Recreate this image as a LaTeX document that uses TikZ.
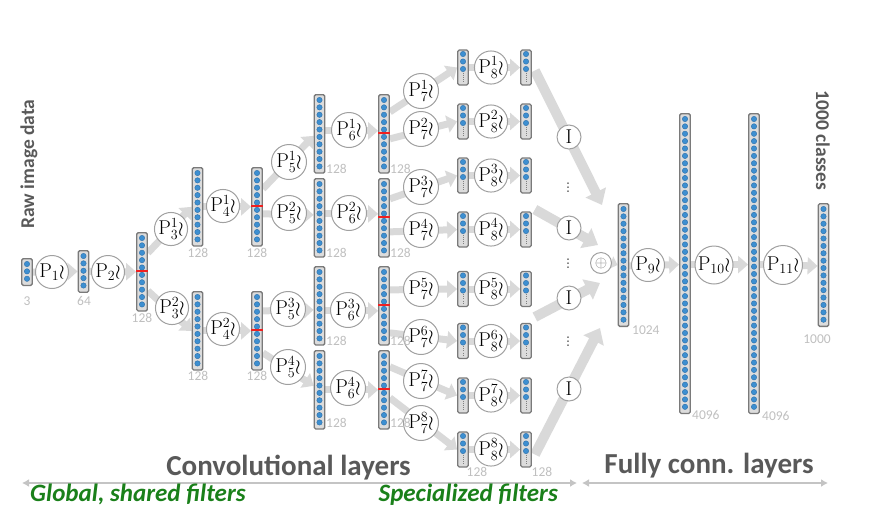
\RequirePackage{fix-cm}
\documentclass[tikz,border=0pt]{standalone}
\usepackage{fontspec}
\newfontfamily\cali{Carlito}
\usetikzlibrary{arrows.meta,calc}
\definecolor{arrg}{HTML}{D9D9D9}
\definecolor{boxfill}{HTML}{DCDCDC}
\definecolor{boxline}{HTML}{7A7A7A}
\definecolor{dotfill}{HTML}{3D8FD1}
\definecolor{dotline}{HTML}{2B6EA8}
\definecolor{circline}{HTML}{A0A0A0}
\definecolor{lblc}{HTML}{BFBFBF}
\definecolor{headc}{HTML}{595959}
\definecolor{greenc}{HTML}{1A801A}
\definecolor{redl}{HTML}{F02020}
\definecolor{dblc}{HTML}{C4C4C4}
\pgfdeclarelayer{bg}
\pgfsetlayers{bg,main}
\newcommand{\fullvec}[4]{%
  \pgfmathsetmacro{\vh}{(#4-1)*7.38+12}%
  \node[vecbox, minimum height=\vh pt, anchor=north] (#1) at (#2,#3) {};%
  \foreach \i in {1,...,#4}{\path[vdot] (#2,{#3+6+(\i-1)*7.38}) circle (2.7pt);}%
}
\newcommand{\redsplit}[1]{\draw[redline] ($(#1.north west)+(0,39.2)$) -- ($(#1.north east)+(0,39.2)$);}
\newcommand{\smallvec}[3]{%
  \node[vecbox, minimum height=35pt] (#1) at (#2,#3) {};%
  \foreach \k in {0,1,2}{\path[vdot] (#2,{#3-13.5+\k*7.5}) circle (2.7pt);}%
  \draw[vdash] (#2,{#3+5}) -- (#2,{#3+14});%
}
\begin{document}
\begin{tikzpicture}[x=1pt,y=-1pt,
  vecbox/.style={draw=boxline, fill=boxfill, line width=1.3pt, rounded corners=1.5pt, minimum width=10.5pt, inner sep=0pt},
  vdot/.style={fill=dotfill, draw=dotline, line width=0.4pt},
  vdash/.style={draw=gray, line width=0.9pt, dash pattern=on 0.9pt off 1.3pt},
  redline/.style={draw=redl, line width=1.5pt},
  op/.style={circle, draw=circline, fill=white, line width=1pt, inner sep=0pt, minimum size=#1, font=\fontsize{20}{20}\selectfont},
  arr/.style={draw=arrg, line width=7pt, -{Triangle[length=10pt,width=17pt]}},
  bigarr/.style={draw=arrg, line width=10pt, -{Triangle[length=14pt,width=22pt]}},
  lbl/.style={text=lblc, inner sep=0pt, font=\cali\fontsize{13.5}{14}\selectfont},
  head/.style={text=headc, inner sep=0pt, font=\cali\bfseries\fontsize{29}{30}\selectfont},
  side/.style={text=headc, inner sep=0pt, font=\cali\bfseries\fontsize{19.5}{20}\selectfont},
  grn/.style={text=greenc, inner sep=0pt, font=\cali\bfseries\itshape\fontsize{25}{26}\selectfont},
  dbl/.style={draw=dblc, line width=2.2pt, {Latex[length=7pt,width=8pt]}-{Latex[length=7pt,width=8pt]}},
  vd/.style={inner sep=0pt, text=black!75, font=\fontsize{20}{20}\selectfont}
]
\useasboundingbox (0,0) rectangle (874,520);

% ---------- vectors ----------
\fullvec{L0}{27}{258}{3}
\fullvec{L1}{83.5}{250}{5}
\fullvec{L2}{142}{232}{10}\redsplit{L2}
\fullvec{L3a}{197.5}{167}{10}
\fullvec{L3b}{197.5}{291}{10}
\fullvec{L4a}{257}{167}{10}\redsplit{L4a}
\fullvec{L4b}{257}{291}{10}\redsplit{L4b}
\fullvec{L5a}{319.5}{94}{10}
\fullvec{L5b}{319.5}{178}{10}
\fullvec{L5c}{319.5}{266}{10}
\fullvec{L5d}{319.5}{350}{10}
\fullvec{L6a}{384}{94}{10}\redsplit{L6a}
\fullvec{L6b}{384}{178}{10}\redsplit{L6b}
\fullvec{L6c}{384}{266}{10}\redsplit{L6c}
\fullvec{L6d}{384}{350}{10}\redsplit{L6d}
\smallvec{L71}{463}{67.5}
\smallvec{L72}{463}{121.5}
\smallvec{L73}{463}{175.5}
\smallvec{L74}{463}{229.5}
\smallvec{L75}{463}{289}
\smallvec{L76}{463}{341}
\smallvec{L77}{463}{395.5}
\smallvec{L78}{463}{449.5}
\smallvec{L81}{526}{67.5}
\smallvec{L82}{526}{121.5}
\smallvec{L83}{526}{175.5}
\smallvec{L84}{526}{229.5}
\smallvec{L85}{526}{289}
\smallvec{L86}{526}{341}
\smallvec{L87}{526}{395.5}
\smallvec{L88}{526}{449.5}
\fullvec{L9}{623.5}{203}{16}
\fullvec{L10}{685}{113}{40}
\fullvec{L11}{754}{113}{40}
\fullvec{L12}{823.5}{203}{16}

% ---------- operators ----------
\node[op=33pt] (P1) at (52,272) {$\mathrm{P}_1\wr$};
\node[op=33pt] (P2) at (108,272) {$\mathrm{P}_2\wr$};
\node[op=33pt] (P31) at (171,229) {$\mathrm{P}^1_3\wr$};
\node[op=33pt] (P32) at (172,308) {$\mathrm{P}^2_3\wr$};
\node[op=33pt] (P41) at (223,206) {$\mathrm{P}^1_4\wr$};
\node[op=33pt] (P42) at (223,329) {$\mathrm{P}^2_4\wr$};
\node[op=35pt] (P51) at (289,162) {$\mathrm{P}^1_5\wr$};
\node[op=35pt] (P52) at (289,213) {$\mathrm{P}^2_5\wr$};
\node[op=35pt] (P53) at (288,309) {$\mathrm{P}^3_5\wr$};
\node[op=35pt] (P54) at (288,367) {$\mathrm{P}^4_5\wr$};
\node[op=35pt] (P61) at (349,130) {$\mathrm{P}^1_6\wr$};
\node[op=35pt] (P62) at (349,213) {$\mathrm{P}^2_6\wr$};
\node[op=35pt] (P63) at (348,310) {$\mathrm{P}^3_6\wr$};
\node[op=35pt] (P64) at (348,388) {$\mathrm{P}^4_6\wr$};
\node[op=35pt] (P71) at (421,91) {$\mathrm{P}^1_7\wr$};
\node[op=35pt] (P72) at (421,129) {$\mathrm{P}^2_7\wr$};
\node[op=35pt] (P73) at (421,187) {$\mathrm{P}^3_7\wr$};
\node[op=35pt] (P74) at (421,230) {$\mathrm{P}^4_7\wr$};
\node[op=35pt] (P75) at (421,289) {$\mathrm{P}^5_7\wr$};
\node[op=35pt] (P76) at (421,337) {$\mathrm{P}^6_7\wr$};
\node[op=35pt] (P77) at (421,381) {$\mathrm{P}^7_7\wr$};
\node[op=35pt] (P78) at (421,423) {$\mathrm{P}^8_7\wr$};
\node[op=32pt] (P81) at (491,67.5) {$\mathrm{P}^1_8\wr$};
\node[op=32pt] (P82) at (491,121.5) {$\mathrm{P}^2_8\wr$};
\node[op=32pt] (P83) at (491,175.5) {$\mathrm{P}^3_8\wr$};
\node[op=32pt] (P84) at (491,229.5) {$\mathrm{P}^4_8\wr$};
\node[op=32pt] (P85) at (491,289) {$\mathrm{P}^5_8\wr$};
\node[op=32pt] (P86) at (491,341) {$\mathrm{P}^6_8\wr$};
\node[op=32pt] (P87) at (491,395.5) {$\mathrm{P}^7_8\wr$};
\node[op=32pt] (P88) at (491,449.5) {$\mathrm{P}^8_8\wr$};
\node[op=24pt] (I1) at (569,137) {$\mathrm{I}$};
\node[op=24pt] (I2) at (569,228) {$\mathrm{I}$};
\node[op=24pt] (I3) at (569,298) {$\mathrm{I}$};
\node[op=24pt] (I4) at (569,389) {$\mathrm{I}$};
\node[vd] (d1) at (568,185) {$\vdots$};
\node[vd] (d2) at (568,261) {$\vdots$};
\node[vd] (d3) at (568,339) {$\vdots$};
\node[op=21pt, text=gray, font=\fontsize{16}{16}\selectfont] (plus) at (601,263) {$\oplus$};
\node[op=33pt] (P9) at (648,265) {$\mathrm{P}_9\wr$};
\node[op=38pt] (P10) at (714,265) {$\mathrm{P}_{10}\wr$};
\node[op=39pt] (P11) at (783,265) {$\mathrm{P}_{11}\wr$};

% ---------- connectors (behind) ----------
\coordinate (t1) at ($(plus)+(1,-58)$);
\coordinate (t2) at ($(plus)+(-3,-18)$);
\coordinate (t3) at ($(plus)+(-1,20)$);
\coordinate (t4) at ($(plus)+(-1,65)$);
\begin{pgfonlayer}{bg}
\draw[arr] (L0.east) -- (L1.west);
\draw[arr] (L1.east) -- (L2.west);
\draw[arr] ($(L2.east)+(0,-19)$) -- (L3a.west);
\draw[arr] ($(L2.east)+(0,19)$) -- (L3b.west);
\draw[arr] (L3a.east) -- (L4a.west);
\draw[arr] (L3b.east) -- (L4b.west);
\draw[arr] ($(L4a.east)+(0,-18)$) -- ($(L5a.west)+(0,2)$);
\draw[arr] ($(L4a.east)+(0,7)$) -- ($(L5b.west)+(0,-3)$);
\draw[arr] ($(L4b.east)+(0,-20)$) -- ($(L5c.west)+(0,4)$);
\draw[arr] ($(L4b.east)+(0,22)$) -- ($(L5d.west)+(0,-4)$);
\draw[arr] ($(L5a.east)+(0,-3)$) -- ($(L6a.west)+(0,-3)$);
\draw[arr] ($(L5b.east)+(0,-4)$) -- ($(L6b.west)+(0,-4)$);
\draw[arr] ($(L5c.east)+(0,5)$) -- ($(L6c.west)+(0,5)$);
\draw[arr] (L5d.east) -- (L6d.west);
\draw[arr] ($(L6a.east)+(0,-22)$) -- (L71.west);
\draw[arr] ($(L6a.east)+(0,5)$) -- (L72.west);
\draw[arr] ($(L6b.east)+(0,-19)$) -- (L73.west);
\draw[arr] ($(L6b.east)+(0,14)$) -- (L74.west);
\draw[arr] ($(L6c.east)+(0,-16)$) -- (L75.west);
\draw[arr] ($(L6c.east)+(0,27)$) -- (L76.west);
\draw[arr] ($(L6d.east)+(0,-23)$) -- (L77.west);
\draw[arr] ($(L6d.east)+(0,8)$) -- (L78.west);
\foreach \k in {1,...,8}{\draw[arr] (L7\k.east) -- (L8\k.west);}
\draw[bigarr] ($(L81.east)+(3,3)$) -- (t1);
\draw[bigarr] ($(L84.east)+(3,-20)$) -- (t2);
\draw[bigarr] ($(L85.east)+(3,28)$) -- (t3);
\draw[bigarr] ($(L88.east)+(3,5)$) -- (t4);
\draw[draw=arrg, line width=6pt, -{Triangle[length=7pt,width=13pt]}] (plus.east) -- (L9.west);
\draw[arr] ($(L9.east)+(0,1)$) -- ($(L10.west)+(0,1)$);
\draw[arr] ($(L10.east)+(0,1)$) -- ($(L11.west)+(0,1)$);
\draw[arr] ($(L11.east)+(0,1)$) -- ($(L12.west)+(0,1)$);
\end{pgfonlayer}

% ---------- size labels ----------
\node[lbl, anchor=base] (s0) at (27,305) {3};
\node[lbl, anchor=base] (s1) at (84,305) {64};
\node[lbl, anchor=base] (s2) at (142,322) {128};
\node[lbl, anchor=base] (s3a) at (198,257) {128};
\node[lbl, anchor=base] (s4a) at (257,257) {128};
\node[lbl, anchor=base] (s3b) at (198,380) {128};
\node[lbl, anchor=base] (s4b) at (257,380) {128};
\node[lbl, anchor=base west] (s5a) at (326,173) {128};
\node[lbl, anchor=base west] (s6a) at (390,173) {128};
\node[lbl, anchor=base west] (s5b) at (326,257) {128};
\node[lbl, anchor=base west] (s6b) at (390,257) {128};
\node[lbl, anchor=base west] (s5c) at (326,345) {128};
\node[lbl, anchor=base west] (s6c) at (390,345) {128};
\node[lbl, anchor=base west] (s5d) at (326,427) {128};
\node[lbl, anchor=base west] (s6d) at (390,427) {128};
\node[lbl, anchor=base] (s7) at (477,476) {128};
\node[lbl, anchor=base] (s8) at (542,476) {128};
\node[lbl, anchor=base west] (s9) at (632,334) {1024};
\node[lbl, anchor=base west] (s10) at (692,419) {4096};
\node[lbl, anchor=base west] (s11) at (762,420) {4096};
\node[lbl, anchor=base] (s12) at (817,343) {1000};

% ---------- titles ----------
\node[side, rotate=90, anchor=base] (raw) at (34,164) {Raw image data};
\node[side, rotate=-90, anchor=base] (cls) at (816,140.5) {1000 classes};
\node[head, anchor=base] (conv) at (288.5,475) {Convolutional layers};
\node[head, anchor=base] (fc) at (709,473) {Fully conn. layers};
\coordinate (c1) at (22,483);
\coordinate (c2) at (577,483);
\coordinate (c3) at (582,483);
\coordinate (c4) at (828,483);
\draw[dbl] (c1) -- (c2);
\draw[dbl] (c3) -- (c4);
\node[grn, anchor=base west] (glob) at (30,501) {Global, shared filters};
\node[grn, anchor=base east] (spec) at (558,501) {Specialized filters};
\end{tikzpicture}
\end{document}
